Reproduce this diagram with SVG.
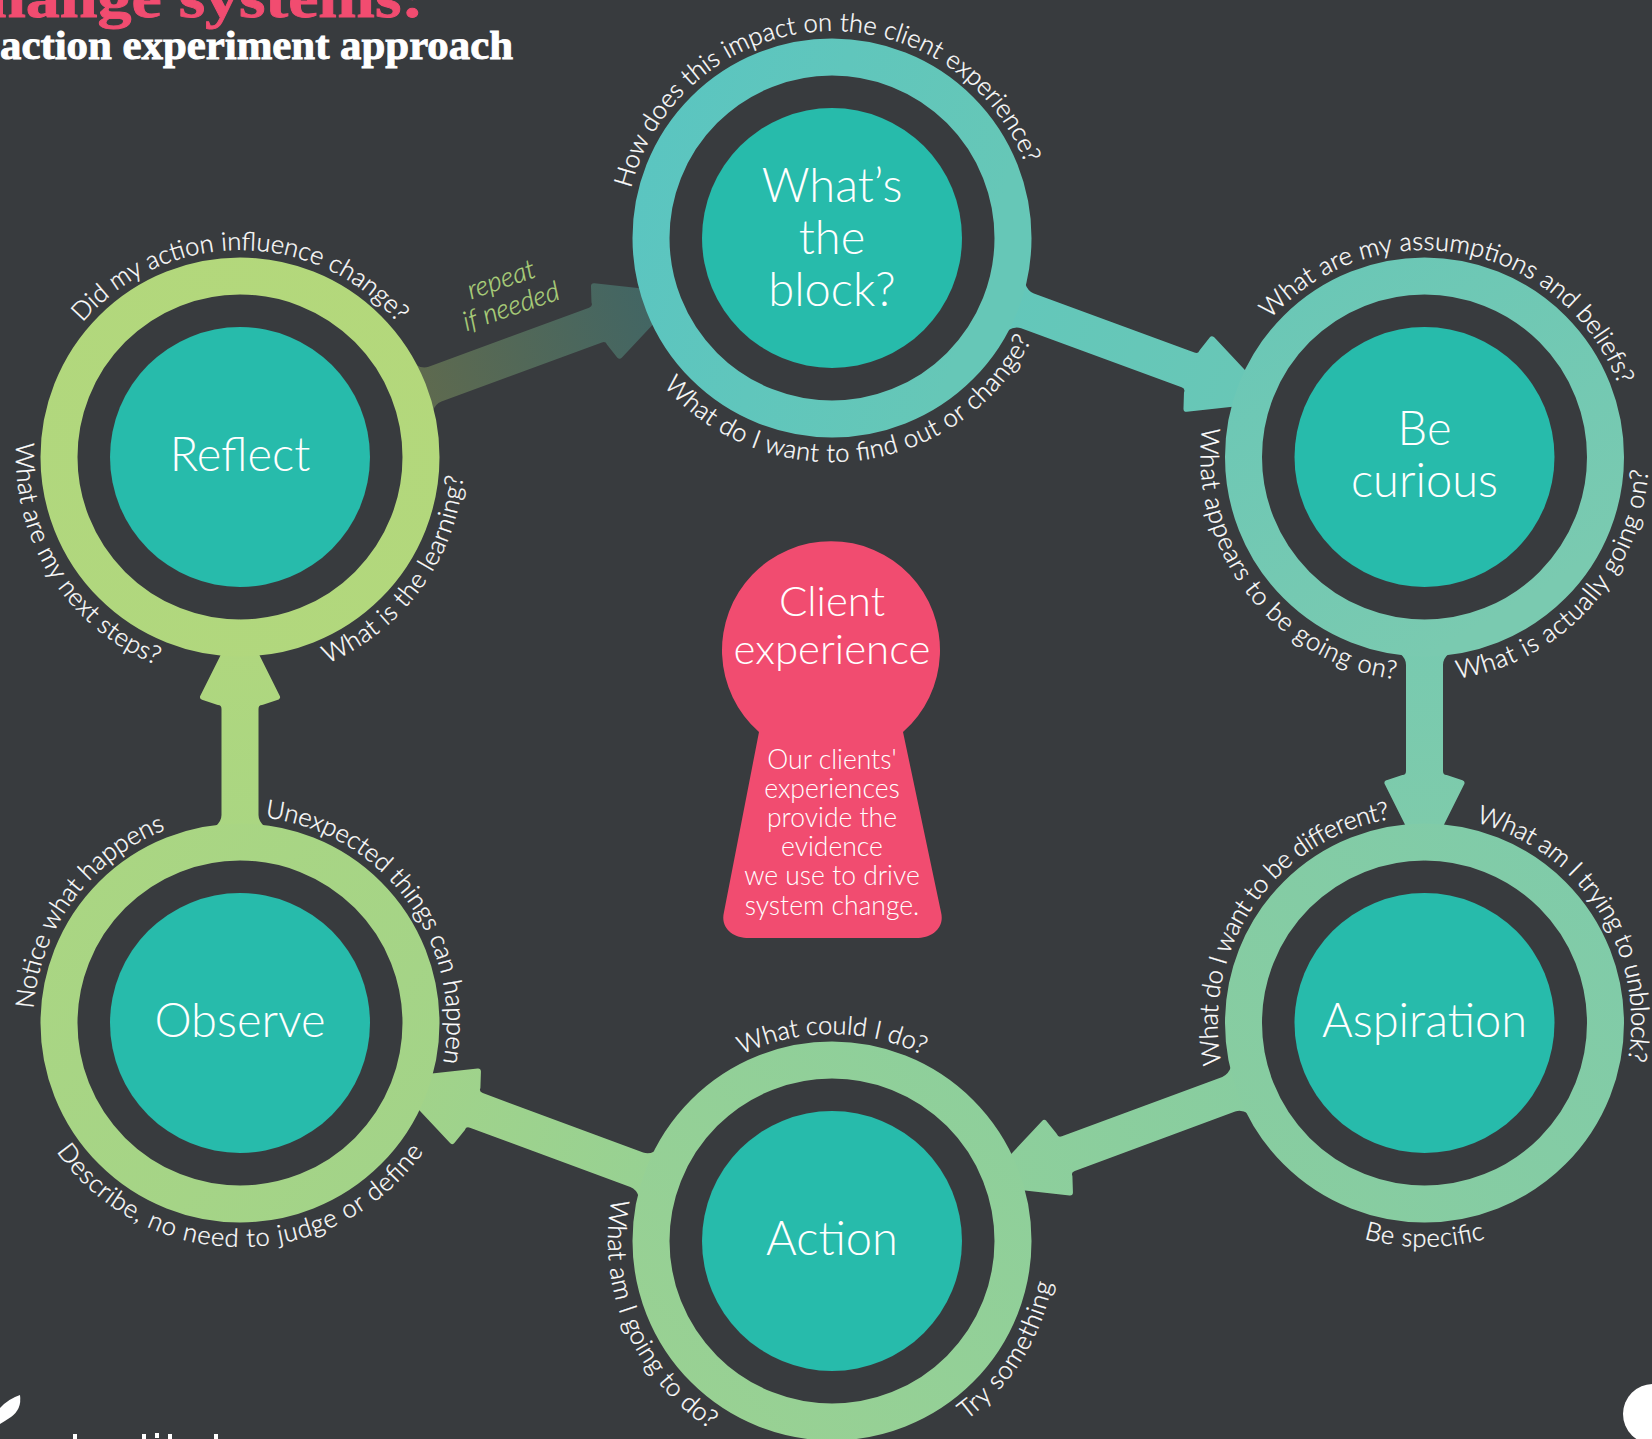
<svg xmlns="http://www.w3.org/2000/svg" width="1652" height="1439" viewBox="0 0 1652 1439">
<style>
text{font-family:"Lato","Open Sans","Liberation Sans",sans-serif;fill:#fff;font-weight:300}
.q{font-size:25.500px;stroke:#fff;stroke-width:0.300px}
.n{font-size:47px;text-anchor:middle}
.k{font-size:42px;text-anchor:middle}
.s{font-size:26.500px;text-anchor:middle}
.r{font-size:27px;text-anchor:middle;font-style:italic;fill:#aed37c;stroke:#aed37c;stroke-width:0.300px}
.t{font-family:"Liberation Serif",serif;font-weight:700;stroke-width:0.900px}
.ring{fill:none;stroke-width:37}
.core{fill:#27bbab}
</style>
<defs>
<path id="cw" d="M0,207A207,207 0 1 1 0,-207A207,207 0 1 1 0,207"/>
<path id="ccw" d="M0,-224A224,224 0 1 0 0,224A224,224 0 1 0 0,-224"/>
<path id="longArrow" stroke-width="6" stroke-linejoin="round" d="M-445,-24L-437,-23Q-431,-15.500 -423,-15.500L-252,-15.500Q-245,-15.500 -245,-22L-240,-37 -166,0 -240,37 -245,22Q-245,15.500 -252,15.500L-423,15.500Q-431,15.500 -437,23L-445,24Z"/>
<path id="shortArrow" stroke-width="6" stroke-linejoin="round" d="M-380,-24L-372,-23Q-366,-15.500 -358,-15.500L-252,-15.500Q-245,-15.500 -245,-22L-240,-37 -166,0 -240,37 -245,22Q-245,15.500 -252,15.500L-358,15.500Q-366,15.500 -372,23L-380,24Z"/>
<linearGradient id="r1" x1="0" y1="0" x2="1" y2="0.3"><stop offset="0" stop-color="#5ac5c1"/><stop offset="1" stop-color="#66c7b7"/></linearGradient>
<linearGradient id="r2" x1="0" y1="0" x2="0.6" y2="1"><stop offset="0" stop-color="#69c7b7"/><stop offset="1" stop-color="#7acab0"/></linearGradient>
<linearGradient id="r3" x1="1" y1="0" x2="0" y2="1"><stop offset="0" stop-color="#7fcbaa"/><stop offset="1" stop-color="#89cd9f"/></linearGradient>
<linearGradient id="r4" x1="1" y1="0" x2="0" y2="1"><stop offset="0" stop-color="#8dcf9c"/><stop offset="1" stop-color="#9ad192"/></linearGradient>
<linearGradient id="r5" x1="1" y1="1" x2="0" y2="0"><stop offset="0" stop-color="#a2d389"/><stop offset="1" stop-color="#abd682"/></linearGradient>
<linearGradient id="r6" x1="0" y1="1" x2="1" y2="0"><stop offset="0" stop-color="#b0d77e"/><stop offset="1" stop-color="#b4d87b"/></linearGradient>
<linearGradient id="a1" gradientUnits="userSpaceOnUse" x1="-445" x2="-166" y1="0" y2="0"><stop offset="0" stop-color="#63c7ba"/><stop offset="1" stop-color="#69c7b6"/></linearGradient>
<linearGradient id="a2" gradientUnits="userSpaceOnUse" x1="-380" x2="-166" y1="0" y2="0"><stop offset="0" stop-color="#78cab0"/><stop offset="1" stop-color="#7fcbaa"/></linearGradient>
<linearGradient id="a3" gradientUnits="userSpaceOnUse" x1="-445" x2="-166" y1="0" y2="0"><stop offset="0" stop-color="#88cda0"/><stop offset="1" stop-color="#8ecf9b"/></linearGradient>
<linearGradient id="a4" gradientUnits="userSpaceOnUse" x1="-445" x2="-166" y1="0" y2="0"><stop offset="0" stop-color="#97d193"/><stop offset="1" stop-color="#a2d389"/></linearGradient>
<linearGradient id="a5" gradientUnits="userSpaceOnUse" x1="-380" x2="-166" y1="0" y2="0"><stop offset="0" stop-color="#aad682"/><stop offset="1" stop-color="#b0d77e"/></linearGradient>
<linearGradient id="a6" gradientUnits="userSpaceOnUse" x1="-445" x2="-166" y1="0" y2="0"><stop offset="0" stop-color="#5f6a4e"/><stop offset="1" stop-color="#3f6566"/></linearGradient>
</defs>
<rect id="background" width="1652" height="1439" fill="#383b3e"/>
<g id="title">
<text class="t" x="-12" y="17" font-size="58" style="fill:#f14c70;stroke:#f14c70" textLength="436" lengthAdjust="spacingAndGlyphs">hange systems:</text>
<text class="t" x="0" y="59" font-size="40" style="stroke:#fff" textLength="513" lengthAdjust="spacingAndGlyphs">action experiment approach</text>
</g>
<g id="connectors">
<use href="#longArrow" transform="translate(1424.500,457) rotate(20.200)" fill="url(#a1)" stroke="url(#a1)"/>
<use href="#shortArrow" transform="translate(1424.500,1023) rotate(90)" fill="url(#a2)" stroke="url(#a2)"/>
<use href="#longArrow" transform="translate(832,1241) rotate(159.700)" fill="url(#a3)" stroke="url(#a3)"/>
<use href="#longArrow" transform="translate(240,1023) rotate(200.300)" fill="url(#a4)" stroke="url(#a4)"/>
<use href="#shortArrow" transform="translate(240,457) rotate(-90)" fill="url(#a5)" stroke="url(#a5)"/>
<use href="#longArrow" transform="translate(832,238) rotate(-20.200)" fill="url(#a6)" stroke="url(#a6)"/>
<text class="r" transform="translate(504,288) rotate(-19)">repeat</text>
<text class="r" transform="translate(514,315) rotate(-19)">if needed</text>
</g>
<g id="node-whats-the-block" transform="translate(832,238)">
<circle class="ring" r="181" stroke="url(#r1)"/><circle class="core" r="130"/>
<text class="n" y="-36">What’s</text><text class="n" y="16">the</text><text class="n" y="68">block?</text>
<text class="q" transform="rotate(-3.600)"><textPath href="#cw" startOffset="50%" text-anchor="middle" textLength="524">How does this impact on the client experience?</textPath></text>
<text class="q" transform="rotate(-7)"><textPath href="#ccw" startOffset="50%" text-anchor="middle" textLength="436">What do I want to find out or change?</textPath></text>
</g>
<g id="node-be-curious" transform="translate(1424.500,457)">
<circle class="ring" r="181" stroke="url(#r2)"/><circle class="core" r="130"/>
<text class="n" y="-12">Be</text><text class="n" y="40">curious</text>
<text class="q" transform="rotate(10.700)"><textPath href="#cw" startOffset="50%" text-anchor="middle" textLength="426">What are my assumptions and beliefs?</textPath></text>
<text class="q" transform="rotate(-47.600)"><textPath href="#ccw" startOffset="50%" text-anchor="middle" textLength="305">What is actually going on?</textPath></text>
<text class="q" transform="rotate(52.500)"><textPath href="#ccw" startOffset="50%" text-anchor="middle" textLength="352">What appears to be going on?</textPath></text>
</g>
<g id="node-aspiration" transform="translate(1424.500,1023)">
<circle class="ring" r="181" stroke="url(#r3)"/><circle class="core" r="130"/>
<text class="n" y="14">Aspiration</text>
<text class="q" transform="rotate(-55.500)"><textPath href="#cw" startOffset="50%" text-anchor="middle" textLength="332">What do I want to be different?</textPath></text>
<text class="q" transform="rotate(57.400)"><textPath href="#cw" startOffset="50%" text-anchor="middle" textLength="311">What am I trying to unblock?</textPath></text>
<text class="q"><textPath href="#ccw" startOffset="50%" text-anchor="middle" textLength="123">Be specific</textPath></text>
</g>
<g id="node-action" transform="translate(832,1241)">
<circle class="ring" r="181" stroke="url(#r4)"/><circle class="core" r="130"/>
<text class="n" y="14">Action</text>
<text class="q"><textPath href="#cw" startOffset="50%" text-anchor="middle" textLength="187">What could I do?</textPath></text>
<text class="q" transform="rotate(-58)"><textPath href="#ccw" startOffset="50%" text-anchor="middle" textLength="165">Try something</textPath></text>
<text class="q" transform="rotate(66.900)"><textPath href="#ccw" startOffset="50%" text-anchor="middle" textLength="265">What am I going to do?</textPath></text>
</g>
<g id="node-observe" transform="translate(240,1023)">
<circle class="ring" r="181" stroke="url(#r5)"/><circle class="core" r="130"/>
<text class="n" y="14">Observe</text>
<text class="q" transform="rotate(-53.600)"><textPath href="#cw" startOffset="50%" text-anchor="middle" textLength="235">Notice what happens</textPath></text>
<text class="q" transform="rotate(54)"><textPath href="#cw" startOffset="50%" text-anchor="middle" textLength="340">Unexpected things can happen</textPath></text>
<text class="q"><textPath href="#ccw" startOffset="50%" text-anchor="middle" textLength="430">Describe, no need to judge or define</textPath></text>
</g>
<g id="node-reflect" transform="translate(240,457)">
<circle class="ring" r="181" stroke="url(#r6)"/><circle class="core" r="130"/>
<text class="n" y="14">Reflect</text>
<text class="q"><textPath href="#cw" startOffset="50%" text-anchor="middle" textLength="358">Did my action influence change?</textPath></text>
<text class="q" transform="rotate(57.800)"><textPath href="#ccw" startOffset="50%" text-anchor="middle" textLength="280">What are my next steps?</textPath></text>
<text class="q" transform="rotate(-54)"><textPath href="#ccw" startOffset="50%" text-anchor="middle" textLength="243">What is the learning?</textPath></text>
</g>
<g id="node-client-experience">
<path fill="#f14c70" d="M759,732A109,109 0 1 1 903,732L941,912C945,928 932,938 916,938L749,938C733,938 720,928 724,912Z"/>
<text class="k" x="832" y="616">Client</text><text class="k" x="832" y="664">experience</text>
<text class="s" x="832" y="769">Our clients'</text><text class="s" x="832" y="798">experiences</text><text class="s" x="832" y="827">provide the</text><text class="s" x="832" y="856">evidence</text><text class="s" x="832" y="885">we use to drive</text><text class="s" x="832" y="915">system change.</text>
</g>
<g id="footer" fill="#fff">
<path d="M0,1408Q8,1399 20,1395Q22,1409 11,1417Q5,1421 0,1424Z"/>
<circle cx="1653" cy="1414" r="30"/>
<path d="M73,1434h4v5h-4zM142,1434h4v5h-4zM155,1433h4v5h-4zM168,1434h4v5h-4zM214,1434h4v5h-4z"/>
</g>
</svg>
